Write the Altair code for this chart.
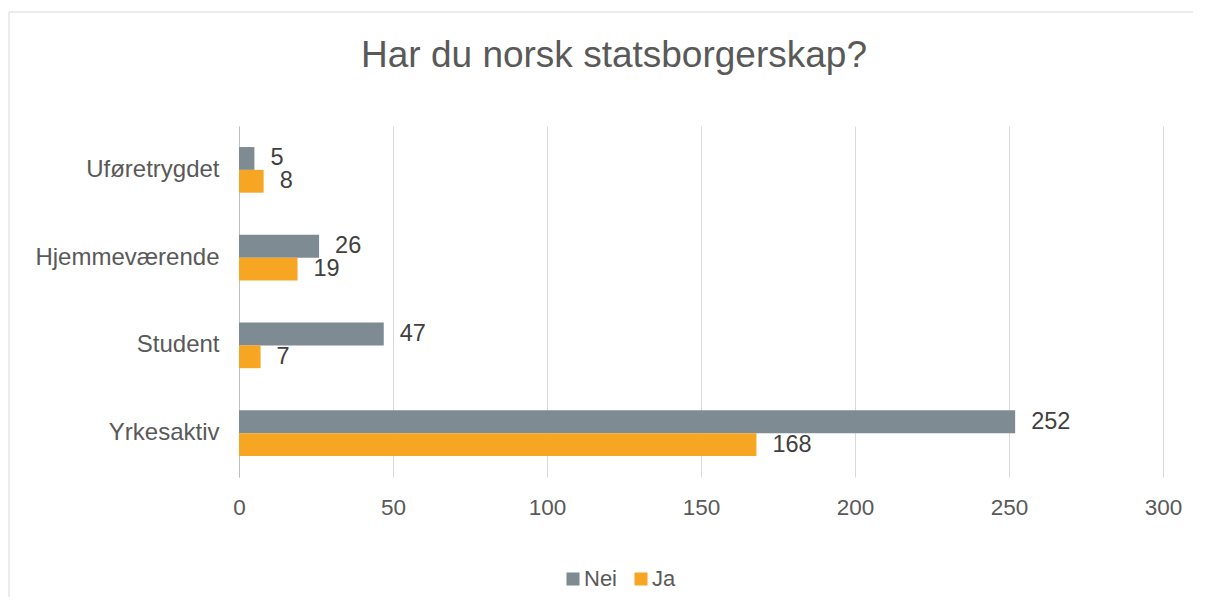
import altair as alt
import pandas as pd

categories = ["Uføretrygdet", "Hjemmeværende\u00a0", "Student", "Yrkesaktiv"]
series = ["Nei", "Ja"]
nei = [5, 26, 47, 252]
ja = [8, 19, 7, 168]
x_ticks = [0, 50, 100, 150, 200, 250, 300]
colors = ["#7F8B93", "#F6A623"]
FONT = "Liberation Sans"

rows = []
for c, n, j in zip(categories, nei, ja):
    rows.append({"kategori": c, "serie": "Nei", "verdi": n})
    rows.append({"kategori": c, "serie": "Ja", "verdi": j})
df = pd.DataFrame(rows)

base = alt.Chart(df).encode(
    y=alt.Y(
        "kategori:N",
        sort=categories,
        title=None,
        scale=alt.Scale(paddingInner=0.48, paddingOuter=0.24),
        axis=alt.Axis(
            ticks=False,
            domain=True,
            domainColor="#bfbfbf",
            labelFontSize=24,
            labelFont=FONT,
            labelColor="#595959",
            labelPadding=20,
            labelLimit=400,
            grid=False,
        ),
    ),
    yOffset=alt.YOffset("serie:N", sort=series, scale=alt.Scale(paddingInner=0, paddingOuter=0)),
    x=alt.X(
        "verdi:Q",
        title=None,
        scale=alt.Scale(domain=[0, 300]),
        axis=alt.Axis(
            values=x_ticks,
            ticks=False,
            domain=False,
            grid=True,
            gridColor="#d9d9d9",
            labelFontSize=22.5,
            labelFont=FONT,
            labelColor="#595959",
            labelPadding=19,
            labelFlush=False,
        ),
    ),
)

bars = base.mark_bar().encode(
    color=alt.Color(
        "serie:N",
        sort=series,
        scale=alt.Scale(domain=series, range=colors),
        legend=alt.Legend(
            title=None,
            orient="none",
            direction="horizontal",
            legendX=323,
            legendY=442,
            symbolType="square",
            symbolSize=170,
            symbolStrokeWidth=0,
            labelFontSize=22,
            labelFont=FONT,
            labelColor="#595959",
            columnPadding=12,
            labelOffset=0,
            padding=0,
        ),
    )
)

labels = base.mark_text(
    align="left", baseline="middle", dx=16, fontSize=23.5, font=FONT, color="#404040"
).encode(text="verdi:Q")

border = alt.Chart(pd.DataFrame({"a": [0]})).mark_rect(
    fill="transparent", stroke="#d9d9d9", strokeWidth=1
).encode(
    x=alt.value(-230), x2=alt.value(1100), y=alt.value(-114), y2=alt.value(600)
)

chart = alt.layer(border, bars, labels).properties(
    width=924,
    height=351,
    autosize=alt.AutoSizeParams(type="none"),
    padding={"left": 231, "top": 118, "right": 30, "bottom": 120},
    title=alt.TitleParams(
        "Har du norsk statsborgerskap?",
        fontSize=37,
        font=FONT,
        color="#595959",
        fontWeight="normal",
        anchor="middle",
        frame="group",
        dx=-87,
        offset=-63,
    ),
).configure_view(stroke=None)

chart.save("out.html", embed_options={"renderer": "svg", "actions": False})
